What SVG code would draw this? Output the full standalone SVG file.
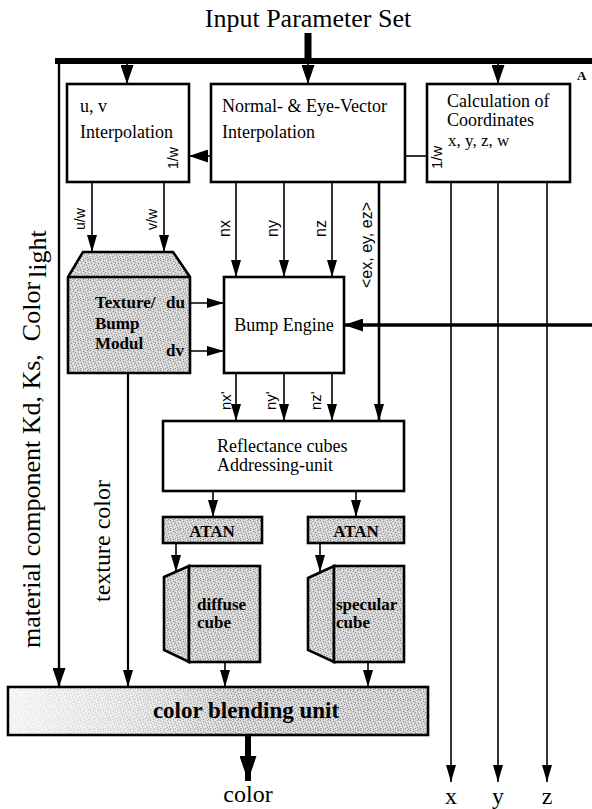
<svg xmlns="http://www.w3.org/2000/svg" width="592" height="809" viewBox="0 0 592 809">
<style>
.box{fill:#fff;stroke:#000;stroke-width:2.6}
.g{fill:url(#stip);stroke:#000;stroke-width:2.6}
.ln{stroke:#000;stroke-width:1.6;fill:none}
.t{font-family:"Liberation Serif","Times New Roman",serif;fill:#000}
.s{font-family:"Liberation Sans",Arial,sans-serif;fill:#000}
.b{font-weight:bold}
</style>
<defs>
<pattern id="stip" width="10" height="10" patternUnits="userSpaceOnUse">
<rect width="10" height="10" fill="#d3d3d3"/>
<g fill="#8e8e8e">
<rect x="0" y="0" width="1" height="1"/><rect x="3" y="1" width="1" height="1"/><rect x="7" y="0" width="1" height="1"/>
<rect x="5" y="2" width="1" height="1"/><rect x="1" y="3" width="1" height="1"/><rect x="8" y="3" width="1" height="1"/>
<rect x="4" y="4" width="1" height="1"/><rect x="6" y="5" width="1" height="1"/><rect x="2" y="6" width="1" height="1"/>
<rect x="9" y="6" width="1" height="1"/><rect x="0" y="8" width="1" height="1"/><rect x="5" y="8" width="1" height="1"/>
<rect x="7" y="7" width="1" height="1"/><rect x="3" y="9" width="1" height="1"/><rect x="8" y="9" width="1" height="1"/>
</g>
<g fill="#f6f6f6">
<rect x="2" y="0" width="1" height="1"/><rect x="6" y="1" width="1" height="1"/><rect x="9" y="2" width="1" height="1"/>
<rect x="3" y="3" width="1" height="1"/><rect x="0" y="5" width="1" height="1"/><rect x="5" y="5" width="1" height="1"/>
<rect x="8" y="6" width="1" height="1"/><rect x="1" y="7" width="1" height="1"/><rect x="4" y="7" width="1" height="1"/>
<rect x="6" y="9" width="1" height="1"/>
</g>
</pattern>
<linearGradient id="fade" x1="0" x2="1" y1="0" y2="0">
<stop offset="0" stop-color="#fff" stop-opacity="0.8"/>
<stop offset="0.3" stop-color="#fff" stop-opacity="0.45"/>
<stop offset="0.55" stop-color="#fff" stop-opacity="0"/>
</linearGradient>
<marker id="a" markerUnits="userSpaceOnUse" markerWidth="17" markerHeight="10" refX="17" refY="5" orient="auto"><path d="M0,0 L17,5 L0,10 z" fill="#000"/></marker>
<marker id="m" markerUnits="userSpaceOnUse" markerWidth="19" markerHeight="13" refX="19" refY="6.5" orient="auto"><path d="M0,0 L19,6.5 L0,13 z" fill="#000"/></marker>
<marker id="bg" markerUnits="userSpaceOnUse" markerWidth="25" markerHeight="17" refX="25" refY="8.5" orient="auto"><path d="M0,0 L25,8.5 L0,17 z" fill="#000"/></marker>
</defs>

<text class="t" x="308" y="27" font-size="26" text-anchor="middle">Input Parameter Set</text>
<text class="t b" x="577" y="80" font-size="13">A</text>

<g id="connectors">
<line x1="55" y1="61" x2="592" y2="61" stroke="#000" stroke-width="6"/>
<line x1="308" y1="33" x2="308" y2="62" stroke="#000" stroke-width="7"/>
<line class="ln" x1="308" y1="62" x2="308" y2="84" marker-end="url(#m)"/>
<line class="ln" x1="127" y1="62" x2="127" y2="84" marker-end="url(#m)"/>
<line class="ln" x1="498" y1="62" x2="498" y2="84" marker-end="url(#m)"/>
<line x1="59" y1="58" x2="59" y2="687" stroke="#000" stroke-width="2.4" marker-end="url(#m)"/>
<line class="ln" x1="211" y1="156" x2="189" y2="156" marker-end="url(#m)"/>
<line class="ln" x1="405" y1="156" x2="427" y2="156" stroke-width="2"/>
<line class="ln" x1="92" y1="182" x2="92" y2="252" marker-end="url(#a)"/>
<line class="ln" x1="164" y1="182" x2="164" y2="252" marker-end="url(#a)"/>
<line class="ln" x1="236" y1="182" x2="236" y2="277" marker-end="url(#a)"/>
<line class="ln" x1="284" y1="182" x2="284" y2="277" marker-end="url(#a)"/>
<line class="ln" x1="332" y1="182" x2="332" y2="277" marker-end="url(#a)"/>
<line x1="379" y1="182" x2="379" y2="421" stroke="#000" stroke-width="2.6" marker-end="url(#a)"/>
<line class="ln" x1="451" y1="182" x2="451" y2="782" marker-end="url(#a)"/>
<line class="ln" x1="498" y1="182" x2="498" y2="782" marker-end="url(#a)"/>
<line class="ln" x1="547" y1="182" x2="547" y2="782" marker-end="url(#a)"/>
<line x1="592" y1="325" x2="344" y2="325" stroke="#000" stroke-width="3.5" marker-end="url(#m)"/>
<line class="ln" x1="190" y1="303" x2="224" y2="303" marker-end="url(#a)"/>
<line class="ln" x1="190" y1="351" x2="224" y2="351" marker-end="url(#a)"/>
<line class="ln" x1="236" y1="373" x2="236" y2="421" marker-end="url(#a)"/>
<line class="ln" x1="284" y1="373" x2="284" y2="421" marker-end="url(#a)"/>
<line class="ln" x1="332" y1="373" x2="332" y2="421" marker-end="url(#a)"/>
<line class="ln" x1="213" y1="491" x2="213" y2="517" marker-end="url(#a)"/>
<line class="ln" x1="356" y1="491" x2="356" y2="517" marker-end="url(#a)"/>
<line class="ln" x1="176" y1="543" x2="176" y2="572" marker-end="url(#a)"/>
<line class="ln" x1="320" y1="543" x2="320" y2="572" marker-end="url(#a)"/>
<line x1="128" y1="373" x2="128" y2="687" stroke="#000" stroke-width="2.2" marker-end="url(#a)"/>
<line class="ln" x1="225" y1="662" x2="225" y2="687" marker-end="url(#a)"/>
<line class="ln" x1="368" y1="662" x2="368" y2="687" marker-end="url(#a)"/>
<line x1="248" y1="735" x2="248" y2="781" stroke="#000" stroke-width="6" marker-end="url(#bg)"/>

<text class="s" font-size="14" transform="translate(85,230) rotate(-90)">u/w</text>
<text class="s" font-size="14" transform="translate(157,230) rotate(-90)">v/w</text>
<text class="s" font-size="16" transform="translate(230,237) rotate(-90)">nx</text>
<text class="s" font-size="16" transform="translate(278,237) rotate(-90)">ny</text>
<text class="s" font-size="16" transform="translate(326,237) rotate(-90)">nz</text>
<text class="s" font-size="16" transform="translate(372,288) rotate(-90)">&lt;ex, ey, ez&gt;</text>
<text class="s" font-size="15" transform="translate(231,410) rotate(-90)">nx'</text>
<text class="s" font-size="15" transform="translate(276,410) rotate(-90)">ny'</text>
<text class="s" font-size="15" transform="translate(321,410) rotate(-90)">nz'</text>
<text class="t" font-size="26" transform="translate(40,648) rotate(-90)">material component Kd, Ks,<tspan dx="13">Color</tspan><tspan dx="4" dy="6">light</tspan></text>
<text class="t" font-size="24" transform="translate(110,602) rotate(-90)">texture color</text>
<text class="t" x="248" y="802" font-size="24" text-anchor="middle">color</text>
<text class="t" x="451" y="804" font-size="24" text-anchor="middle">x</text>
<text class="t" x="498" y="804" font-size="24" text-anchor="middle">y</text>
<text class="t" x="547" y="804" font-size="24" text-anchor="middle">z</text>
</g>

<g id="uv-interpolation">
<rect class="box" x="67" y="84" width="122" height="98"/>
<text class="t" x="80" y="112" font-size="18">u, v</text>
<text class="t" x="80" y="138" font-size="18">Interpolation</text>
<text class="s" font-size="14" transform="translate(178,169) rotate(-90)">1/w</text>
</g>

<g id="normal-eye-interpolation">
<rect class="box" x="211" y="84" width="194" height="98"/>
<text class="t" x="222" y="112" font-size="18">Normal- &amp; Eye-Vector</text>
<text class="t" x="222" y="138" font-size="18">Interpolation</text>
</g>

<g id="coordinates">
<rect class="box" x="427" y="84" width="143" height="98"/>
<text class="t" x="447" y="107" font-size="18">Calculation of</text>
<text class="t" x="447" y="126" font-size="18">Coordinates</text>
<text class="t" x="448" y="146" font-size="17">x, y, z, w</text>
<text class="s" font-size="15" transform="translate(442,169) rotate(-90)">1/w</text>
</g>

<g id="texture-bump-modul">
<path class="g" d="M83,252 L173,252 L190,277 L190,373 L68,373 L68,277 Z"/>
<line x1="68" y1="277" x2="190" y2="277" stroke="#000" stroke-width="2.6"/>
<text class="t b" x="95" y="308" font-size="17">Texture/</text>
<text class="t b" x="95" y="329" font-size="17">Bump</text>
<text class="t b" x="95" y="349" font-size="17">Modul</text>
<text class="t b" x="166" y="308" font-size="17">du</text>
<text class="t b" x="166" y="356" font-size="17">dv</text>
</g>

<g id="bump-engine">
<rect class="box" x="224" y="277" width="120" height="96"/>
<text class="t" x="284" y="331" font-size="18" text-anchor="middle">Bump Engine</text>
</g>

<g id="reflectance-addressing">
<rect class="box" x="163" y="421" width="241" height="70"/>
<text class="t" x="217" y="452" font-size="18">Reflectance cubes</text>
<text class="t" x="217" y="471" font-size="18">Addressing-unit</text>
</g>

<g id="atan-left">
<rect class="g" x="163" y="517" width="99" height="26"/>
<text class="t b" x="212" y="537" font-size="17" text-anchor="middle">ATAN</text>
</g>
<g id="atan-right">
<rect class="g" x="308" y="517" width="96" height="26"/>
<text class="t b" x="356" y="537" font-size="17" text-anchor="middle">ATAN</text>
</g>

<g id="diffuse-cube">
<path class="g" d="M164,577 L189,566 L189,662 L164,650 Z"/>
<rect class="g" x="189" y="566" width="71" height="96"/>
<text class="t b" x="197" y="610" font-size="17">diffuse</text>
<text class="t b" x="197" y="628" font-size="17">cube</text>
</g>

<g id="specular-cube">
<path class="g" d="M308,578 L334,566 L334,662 L308,650 Z"/>
<rect class="g" x="334" y="566" width="70" height="96"/>
<text class="t b" x="336" y="610" font-size="17">specular</text>
<text class="t b" x="336" y="628" font-size="17">cube</text>
</g>

<g id="color-blending-unit">
<rect class="g" x="8" y="687" width="420" height="48"/>
<rect x="9.5" y="688.5" width="417" height="45" fill="url(#fade)"/>
<text class="t b" x="246" y="718" font-size="23" text-anchor="middle">color blending unit</text>
</g>
</svg>
